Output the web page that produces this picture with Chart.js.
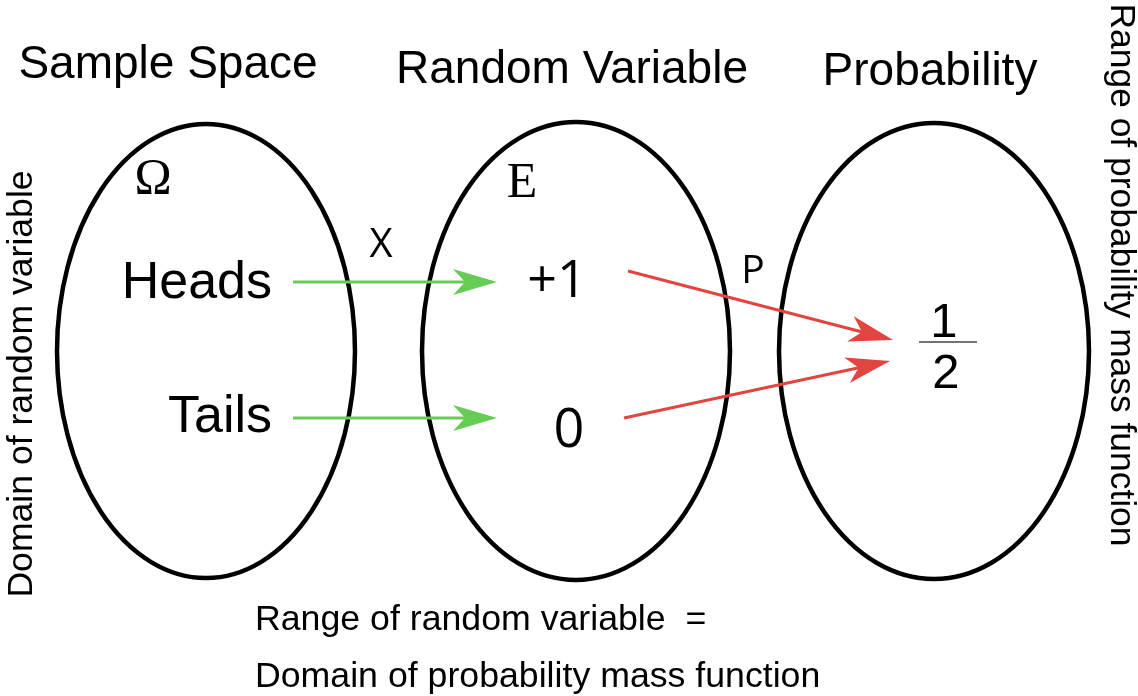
<!DOCTYPE html>
<html>
<head>
<meta charset="utf-8">
<title>Random variable mapping</title>
<script src="https://cdn.jsdelivr.net/npm/chart.js@4"></script>
<style>
  html, body { margin: 0; padding: 0; background: #fff; }
  canvas { display: block; }
</style>
</head>
<body>
<canvas id="diagram" width="1138" height="696"></canvas>
<script>
// diagram content
const setTitles = ["Sample Space", "Random Variable", "Probability"];
const setSymbols = ["Ω", "E", ""];
const outcomes = ["Heads", "Tails"];
const rvValues = ["+1", "0"];
const probFraction = ["1", "2"];
const xMap = [0, 1];            // outcome -> random variable value
const pMap = [0, 0];            // random variable value -> probability
const mapLabels = ["X", "P"];
const sideLabels = ["Domain of random variable", "Range of probability mass function"];
const noteLines = ["Range of random variable  =", "Domain of probability mass function"];

// layout, in axis units (axes span the canvas 1:1)
const setShapes = [
  { cx: 206, cy: 351, rx: 149, ry: 227 },
  { cx: 576, cy: 351, rx: 154, ry: 229 },
  { cx: 934, cy: 351, rx: 155, ry: 228 },
];
const titlePos = [{ x: 168, y: 78 }, { x: 572, y: 83 }, { x: 930, y: 85 }];
const symbolPos = [{ x: 153, y: 193 }, { x: 522, y: 197 }];
const outcomePos = [{ x: 272, y: 298 }, { x: 272, y: 432 }];
const valuePos = [{ x: 557, y: 297, size: 52 }, { x: 569, y: 447, size: 54 }];
const fractionPos = { x: 946, top: 337, bottom: 388, barY: 342, x1: 919, x2: 977 };
const mapLabelPos = [{ x: 381, y: 257, size: 40 }, { x: 753, y: 283, size: 39 }];
const xArrows = [{ x1: 293, y1: 282, x2: 497, y2: 282 }, { x1: 293, y1: 418, x2: 497, y2: 418 }];
const pArrows = [{ x1: 628, y1: 271, x2: 893, y2: 340 }, { x1: 624, y1: 418, x2: 890, y2: 361 }];

const GREEN = "#66cc55";
const RED = "#e2453f";
const SANS = "'Liberation Sans', Arial, sans-serif";
const OPEN = "'Open Sans', 'Liberation Sans', sans-serif";
const SERIF = "'Liberation Serif', 'Times New Roman', serif";

// one line dataset per arrow, stopping short of the tip so the head stays sharp
function arrowData(a) {
  const len = Math.hypot(a.x2 - a.x1, a.y2 - a.y1);
  const k = (len - 14) / len;
  return [{ x: a.x1, y: a.y1 }, { x: a.x1 + (a.x2 - a.x1) * k, y: a.y1 + (a.y2 - a.y1) * k }];
}

const datasets = [];
xMap.forEach((v, i) => {
  datasets.push({ label: outcomes[i] + " → " + rvValues[v], data: arrowData(xArrows[i]), color: GREEN });
});
pMap.forEach((p, i) => {
  datasets.push({ label: rvValues[i] + " → " + probFraction.join("/"), data: arrowData(pArrows[i]), color: RED });
});
datasets.forEach(d => {
  d.showLine = true;
  d.borderColor = d.color;
  d.borderWidth = 3;
  d.pointRadius = 0;
  d.fill = false;
});

function text(ctx, str, x, y, font, align, rot) {
  ctx.save();
  ctx.translate(x, y);
  if (rot) ctx.rotate(rot);
  ctx.font = font;
  ctx.textAlign = align || "center";
  ctx.textBaseline = "alphabetic";
  ctx.fillStyle = "#000";
  ctx.fillText(str, 0, 0);
  ctx.restore();
}

function arrowHead(ctx, x1, y1, x2, y2, color) {
  const ang = Math.atan2(y2 - y1, x2 - x1);
  ctx.save();
  ctx.translate(x2, y2);
  ctx.rotate(ang);
  ctx.beginPath();
  ctx.moveTo(0, 0);
  ctx.lineTo(-44, -13);
  ctx.lineTo(-32, 0);
  ctx.lineTo(-44, 13);
  ctx.closePath();
  ctx.fillStyle = color;
  ctx.fill();
  ctx.restore();
}

const diagramPlugin = {
  id: "diagram",
  beforeDraw(chart) {
    const ctx = chart.ctx;
    ctx.save();
    ctx.fillStyle = "#fff";
    ctx.fillRect(0, 0, chart.width, chart.height);
    ctx.restore();
  },
  beforeDatasetsDraw(chart) {
    const { ctx, scales: { x, y } } = chart;
    ctx.save();
    ctx.lineWidth = 4.5;
    ctx.strokeStyle = "#000";
    setShapes.forEach(s => {
      const cx = x.getPixelForValue(s.cx), cy = y.getPixelForValue(s.cy);
      const rx = Math.abs(x.getPixelForValue(s.cx + s.rx) - cx);
      const ry = Math.abs(y.getPixelForValue(s.cy + s.ry) - cy);
      ctx.beginPath();
      ctx.ellipse(cx, cy, rx, ry, 0, 0, Math.PI * 2);
      ctx.stroke();
    });
    ctx.restore();
  },
  afterDatasetsDraw(chart) {
    const { ctx, scales: { x, y } } = chart;
    const px = v => x.getPixelForValue(v);
    const py = v => y.getPixelForValue(v);

    xArrows.forEach(a => arrowHead(ctx, px(a.x1), py(a.y1), px(a.x2), py(a.y2), GREEN));
    pArrows.forEach(a => arrowHead(ctx, px(a.x1), py(a.y1), px(a.x2), py(a.y2), RED));

    setTitles.forEach((t, i) => text(ctx, t, px(titlePos[i].x), py(titlePos[i].y), "46px " + SANS));
    setSymbols.forEach((s, i) => {
      if (s) text(ctx, s, px(symbolPos[i].x), py(symbolPos[i].y), "50px " + SERIF);
    });
    outcomes.forEach((o, i) => text(ctx, o, px(outcomePos[i].x), py(outcomePos[i].y), "52px " + SANS, "right"));
    rvValues.forEach((v, i) => text(ctx, v, px(valuePos[i].x), py(valuePos[i].y), valuePos[i].size + "px " + OPEN));
    mapLabels.forEach((m, i) => text(ctx, m, px(mapLabelPos[i].x), py(mapLabelPos[i].y), mapLabelPos[i].size + "px " + OPEN));

    // fraction 1/2
    const f = fractionPos;
    text(ctx, probFraction[0], px(f.x - 2), py(f.top), "49px " + SANS);
    text(ctx, probFraction[1], px(f.x), py(f.bottom), "49px " + SANS);
    ctx.save();
    ctx.strokeStyle = "#444";
    ctx.lineWidth = 1.5;
    ctx.beginPath();
    ctx.moveTo(px(f.x1), py(f.barY));
    ctx.lineTo(px(f.x2), py(f.barY));
    ctx.stroke();
    ctx.restore();

    text(ctx, sideLabels[0], px(32), py(384), "35.6px " + SANS, "center", -Math.PI / 2);
    text(ctx, sideLabels[1], px(1111), py(275), "35.4px " + SANS, "center", Math.PI / 2);

    text(ctx, noteLines[0], px(255), py(630), "35.7px " + SANS, "left");
    text(ctx, noteLines[1], px(255), py(687), "35.7px " + SANS, "left");
  },
};

new Chart(document.getElementById("diagram"), {
  type: "scatter",
  data: { datasets: datasets },
  options: {
    responsive: false,
    animation: false,
    devicePixelRatio: 1,
    layout: { padding: 0 },
    plugins: { legend: { display: false }, tooltip: { enabled: false } },
    scales: {
      x: { type: "linear", min: 0, max: 1138, display: false },
      y: { type: "linear", min: 0, max: 696, reverse: true, display: false },
    },
  },
  plugins: [diagramPlugin],
});
</script>
</body>
</html>
